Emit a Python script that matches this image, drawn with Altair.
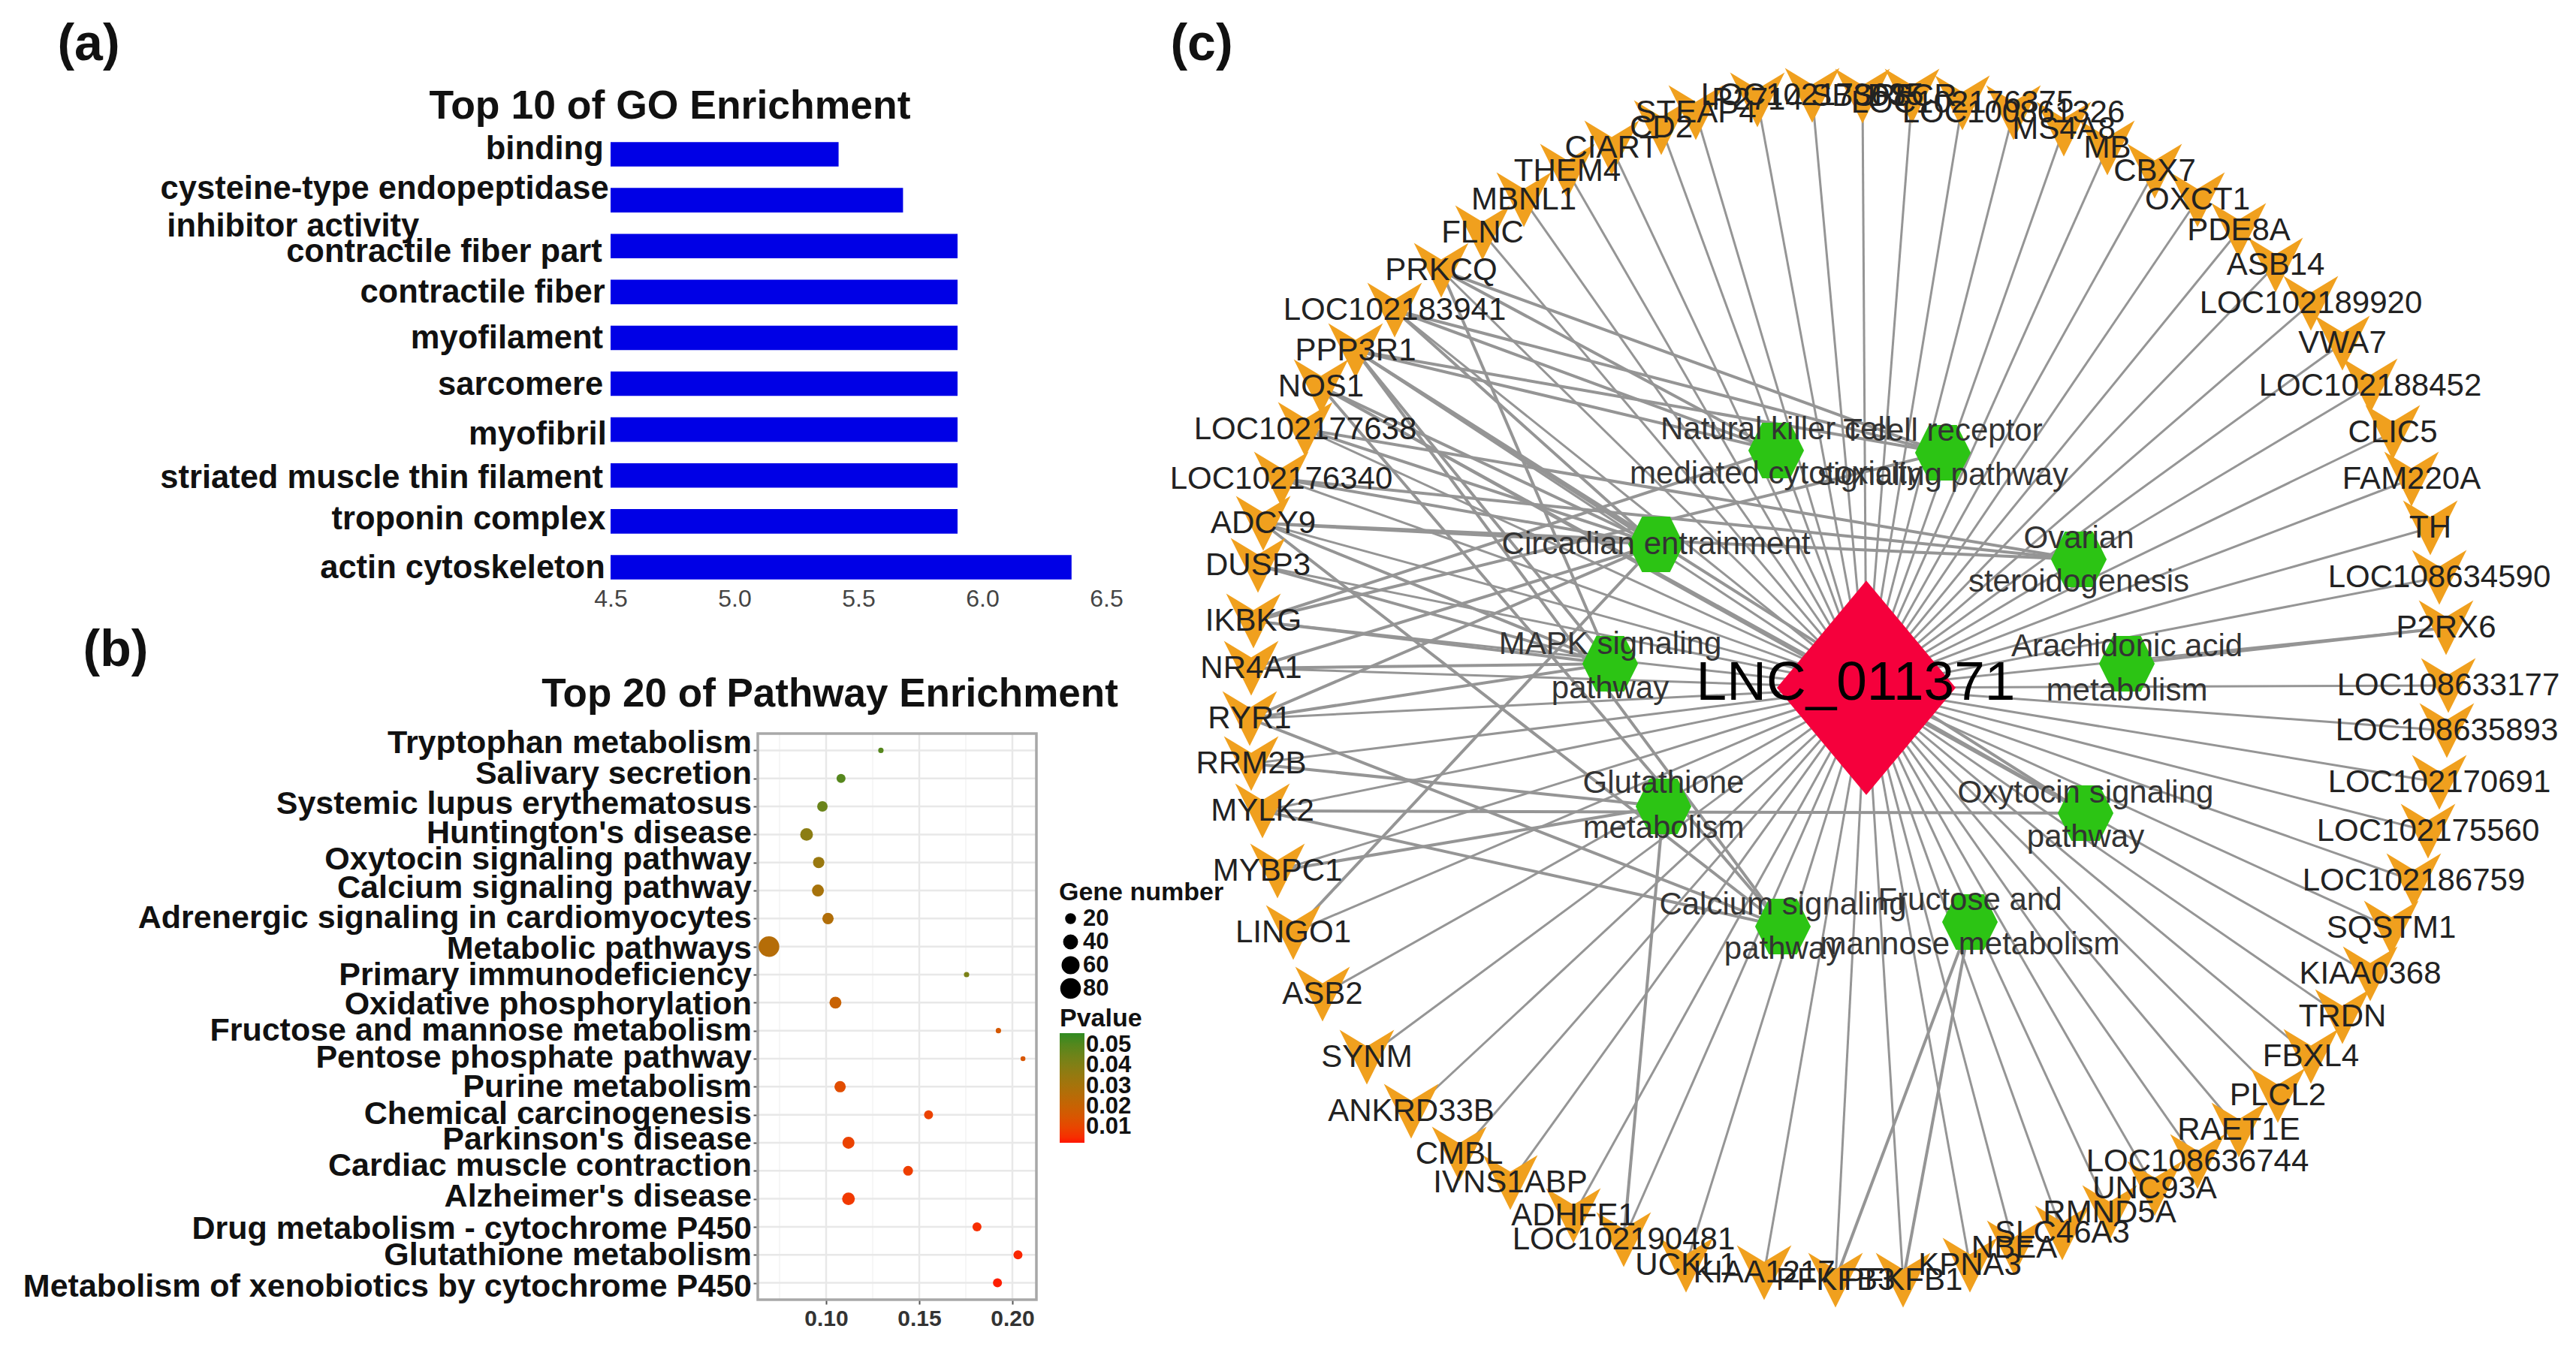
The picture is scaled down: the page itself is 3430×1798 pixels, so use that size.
import altair as alt
import pandas as pd

W, H = 3414, 1782
M = 8

# ---------- panel (a) ----------
go_terms = ["binding", "cysteine-type endopeptidase", "contractile fiber part", "contractile fiber",
            "myofilament", "sarcomere", "myofibril", "striated muscle thin filament",
            "troponin complex", "actin cytoskeleton"]
go_values = [5.42, 5.68, 5.9, 5.9, 5.9, 5.9, 5.9, 5.9, 5.9, 6.36]
go_label_rows = [0.385, 1.25, 2.63, 3.51, 4.51, 5.52, 6.6, 7.55, 8.45, 9.52]
go_label_ends = [4.472, 4.493, 4.466, 4.478, 4.47, 4.47, 4.484, 4.47, 4.48, 4.478]
go_ticks = [4.5, 5.0, 5.5, 6.0, 6.5]

# ---------- panel (b) ----------
pw_terms = ["Tryptophan metabolism", "Salivary secretion", "Systemic lupus erythematosus",
            "Huntington's disease", "Oxytocin signaling pathway", "Calcium signaling pathway",
            "Adrenergic signaling in cardiomyocytes", "Metabolic pathways", "Primary immunodeficiency",
            "Oxidative phosphorylation", "Fructose and mannose metabolism", "Pentose phosphate pathway",
            "Purine metabolism", "Chemical carcinogenesis", "Parkinson's disease",
            "Cardiac muscle contraction", "Alzheimer's disease", "Drug metabolism - cytochrome P450",
            "Glutathione metabolism", "Metabolism of xenobiotics by cytochrome P450"]
pw_ratio = [.1294, .108, .098, .0895, .096, .0956, .101, .0693, .1754, .105,
            .1925, .2057, .1075, .155, .112, .144, .112, .181, .203, .192]
pw_genes = [6, 17, 23, 34, 27, 30, 27, 90, 6, 30, 6, 5, 27, 17, 30, 20, 34, 17, 17, 17]
pw_p = [.05, .05, .046, .038, .034, .03, .027, .026, .042, .02,
        .016, .015, .012, .009, .009, .008, .007, .005, .004, .003]
pw_label_rows = [-0.26, .85, 1.92, 2.95, 3.90, 4.92, 6.0, 7.10, 8.03, 9.07,
                 10.02, 10.98, 12.02, 12.97, 13.90, 14.84, 15.92, 17.07, 18.03, 19.15]
pw_major = [.10, .15, .20]
pw_minor = [.075, .125, .175]
size_ticks = [20, 40, 60, 80]
p_ticks = [.05, .04, .03, .02, .01]

# ---------- panel (c): node centres ----------
gene_names = ["CIART", "CD2", "STEAP4", "P2714", "LOC102173635", "SBSPF", "DSCR", "LOC102176375",
              "LOC100861326", "MS4A8", "MB", "CBX7", "OXCT1", "PDE8A", "ASB14", "LOC102189920",
              "VWA7", "LOC102188452", "CLIC5", "FAM220A", "TH", "LOC108634590", "P2RX6",
              "LOC108633177", "LOC108635893", "LOC102170691", "LOC102175560", "LOC102186759",
              "SQSTM1", "KIAA0368", "TRDN", "FBXL4", "PLCL2", "RAET1E", "LOC108636744", "UNC93A",
              "RMND5A", "SLC46A3", "NBEA", "KPNA3", "PFKFB1", "PFKFB3", "KIAA1217", "UCKL1",
              "LOC102190481", "ADHFE1", "IVNS1ABP", "CMBL", "ANKRD33B", "SYNM", "ASB2", "LINGO1",
              "MYBPC1", "MYLK2", "RRM2B", "RYR1", "NR4A1", "IKBKG", "DUSP3", "ADCY9",
              "LOC102176340", "LOC102177638", "NOS1", "PPP3R1", "LOC102183941", "PRKCQ", "FLNC",
              "MBNL1", "THEM4"]
gene_x = [2146, 2212, 2258, 2340, 2413, 2480, 2546, 2613, 2681, 2748, 2806, 2869, 2926, 2981, 3030,
          3077, 3119, 3156, 3186, 3211, 3236, 3248, 3257, 3260, 3258, 3248, 3233, 3214, 3184, 3156,
          3119, 3077, 3033, 2981, 2926, 2869, 2809, 2746, 2682, 2623, 2534, 2444, 2349, 2245, 2162,
          2095, 2011, 1943, 1879, 1820, 1761, 1722, 1701, 1681, 1666, 1664, 1666, 1669, 1675, 1682,
          1706, 1738, 1759, 1805, 1857, 1919, 1974, 2029, 2087]
gene_y = [197, 170, 150, 133, 127, 128, 128, 137, 150, 172, 197, 228, 266, 307, 353, 404, 457, 514,
          576, 638, 703, 769, 836, 913, 973, 1042, 1107, 1173, 1236, 1297, 1354, 1407, 1459, 1505,
          1547, 1583, 1615, 1642, 1662, 1685, 1705, 1705, 1695, 1685, 1651, 1619, 1575, 1537, 1480,
          1408, 1324, 1242, 1160, 1080, 1017, 957, 890, 827, 753, 697, 638, 572, 515, 467, 413, 360,
          310, 266, 228]

hub_names = ["Natural killer cell", "T cell receptor", "Circadian entrainment", "Ovarian",
             "MAPK signaling", "Arachidonic acid", "Glutathione", "Oxytocin signaling",
             "Calcium signaling", "Fructose and"]
hub_second = ["mediated cytotoxicity", "signaling pathway", "", "steroidogenesis", "pathway",
              "metabolism", "metabolism", "pathway", "pathway", "mannose metabolism"]
hub_x = [2365, 2587, 2205, 2768, 2144, 2832, 2215, 2777, 2374, 2623]
hub_y = [600, 603, 725, 745, 884, 884, 1074, 1083, 1234, 1228]
hub_line1_y = [572, 574, 725, 717, 858, 861, 1043, 1056, 1205, 1199]
hub_line2_y = [631, 633, 0, 775, 917, 920, 1103, 1115, 1264, 1258]

centre_name = "LNC_011371"
centre_x, centre_y = 2485, 916

pathway_links = [
    ("PRKCQ", 1), ("PRKCQ", 4), ("PRKCQ", 0),
    ("LOC102183941", 0), ("LOC102183941", 1), ("LOC102183941", 2),
    ("PPP3R1", 0), ("PPP3R1", 1), ("PPP3R1", 2), ("PPP3R1", 4), ("PPP3R1", 7), ("PPP3R1", 8),
    ("NOS1", 2), ("NOS1", 8), ("NOS1", 7),
    ("LOC102177638", 2), ("LOC102177638", 3),
    ("LOC102176340", 2), ("LOC102176340", 3),
    ("ADCY9", 2), ("ADCY9", 3), ("ADCY9", 4), ("ADCY9", 8),
    ("DUSP3", 4), ("IKBKG", 4), ("IKBKG", 0), ("IKBKG", 1),
    ("NR4A1", 4), ("NR4A1", 2),
    ("RYR1", 2), ("RYR1", 8), ("RYR1", 4),
    ("RRM2B", 6), ("MYLK2", 7), ("MYLK2", 8),
    ("P2RX6", 5), ("LOC102190481", 6), ("PFKFB3", 9), ("PFKFB1", 9),
    ("MYBPC1", 6), ("LINGO1", 2),
]

texts = [("(a)", 118, 60, 68), ("(b)", 154, 867, 68), ("(c)", 1600, 60, 68),
         ("Top 10 of GO Enrichment", 892, 142, 53.5), ("Top 20 of Pathway Enrichment", 1105, 925, 53)]

# ---------- tables ----------
go_df = pd.DataFrame({"term": go_terms, "value": go_values, "base": [4.5] * len(go_terms),
                      "row": go_label_rows, "end": go_label_ends})
pw_df = pd.DataFrame({"term": pw_terms, "ratio": pw_ratio, "genes": pw_genes, "p": pw_p,
                      "row": pw_label_rows})
pw_df["lo"], pw_df["hi"] = .0633, .2129
genes = pd.DataFrame({"name": gene_names, "x": gene_x, "y": gene_y})
hubs = pd.DataFrame({"name": hub_names, "second": hub_second, "x": hub_x, "y": hub_y,
                     "y1": hub_line1_y, "y2": hub_line2_y})
gpos = dict(zip(gene_names, zip(gene_x, gene_y)))
edges = [{"x": gpos[g][0], "y": gpos[g][1], "x2": centre_x, "y2": centre_y} for g in gene_names]
edges_df = pd.DataFrame(edges)
plinks_df = pd.DataFrame([{"x": gpos[g][0], "y": gpos[g][1], "x2": hub_x[h], "y2": hub_y[h]}
                          for g, h in pathway_links])
text_df = pd.DataFrame(texts, columns=["t", "x", "y", "s"])

FONT = "Liberation Sans"

# picture-coordinate scales for the network panel
PX = alt.Scale(domain=[0, 3430], range=[-M, 3430 - M])
PY = alt.Scale(domain=[0, 1798], range=[-M, 1798 - M])
px = lambda f: alt.X(f, type="quantitative", scale=PX, axis=None)
py = lambda f: alt.Y(f, type="quantitative", scale=PY, axis=None)

layers = []

# panel (a)
AX = alt.Scale(domain=[4.5, 6.5], range=[813 - M, 1473 - M])
AY = alt.Scale(domain=go_terms, range=[175 - M, 786 - M], paddingInner=.466, paddingOuter=.233)
AR = alt.Scale(domain=[0, 10], range=[175.5 - M, 786.5 - M])
layers.append(alt.Chart(go_df).mark_bar(color="#0000e6").encode(
    x=alt.X("base:Q", scale=AX, axis=alt.Axis(values=go_ticks, format=".1f", title=None, grid=False, domain=False,
                                              ticks=False, orient="bottom", offset=-(H - (786 - M)),
                                              labelFont=FONT, labelFontSize=32, labelColor="#444444", labelFlush=False,
                                              labelPadding=-4, labelBaseline="top")),
    x2="value:Q",
    y=alt.Y("term:N", scale=AY, sort=None, axis=None)))
layers.append(alt.Chart(go_df).mark_text(align="right", baseline="middle", font=FONT, fontWeight="bold",
                                         fontSize=43.5, color="#111111").encode(
    x=alt.X("end:Q", scale=AX, axis=None), y=alt.Y("row:Q", scale=AR, axis=None), text="term:N"))
layers.append(alt.Chart(pd.DataFrame({"t": ["inhibitor activity"], "e": [2.71], "r": [2.07]}))
              .mark_text(align="left", baseline="middle", font=FONT, fontWeight="bold", fontSize=43.5, color="#111111")
              .encode(x=alt.X("e:Q", scale=AX, axis=None), y=alt.Y("r:Q", scale=AR, axis=None), text="t:N"))

# panel (b)
BX = alt.Scale(domain=[.0633, .2129], range=[1009 - M, 1380 - M])
BY = alt.Scale(domain=pw_terms, type="point", padding=.6, range=[977 - M, 1731 - M])
BR = alt.Scale(domain=[-.6, 19.6], range=[977 - M, 1731 - M])
for vals, col, sw in ((pw_minor, "#f3f3f3", 1.5), (pw_major, "#e8e8e8", 2.5)):
    layers.append(alt.Chart(pd.DataFrame({"v": vals})).mark_rule(color=col, strokeWidth=sw).encode(
        x=alt.X("v:Q", scale=BX, axis=None), y=alt.value(977 - M), y2=alt.value(1731 - M)))
layers.append(alt.Chart(pw_df).mark_rule(color="#e8e8e8", strokeWidth=2.5).encode(
    x=alt.X("lo:Q", scale=BX, axis=None), x2="hi:Q",
    y=alt.Y("term:N", scale=BY, sort=None,
            axis=alt.Axis(orient="left", offset=-(1009 - M), labels=False, title=None, domain=False, grid=False,
                          tickSize=6, tickColor="#555555", tickWidth=2))))
layers.append(alt.Chart(pd.DataFrame({"a": [0]})).mark_rect(fill="transparent", stroke="#a8a8a8", strokeWidth=3.5).encode(
    x=alt.value(1009 - M), x2=alt.value(1380 - M), y=alt.value(977 - M), y2=alt.value(1731 - M)))
layers.append(alt.Chart(pw_df).mark_circle(opacity=1).encode(
    x=alt.X("ratio:Q", scale=BX,
            axis=alt.Axis(values=pw_major, format=".2f", title=None, grid=False, domain=False, orient="bottom",
                          offset=-(H - (1731 - M)), labelFont=FONT, labelFontWeight="bold", labelFontSize=30,
                          labelColor="#333333", tickSize=6, tickColor="#555555", tickWidth=2, labelPadding=4)),
    y=alt.Y("term:N", scale=BY, sort=None, axis=None),
    size=alt.Size("genes:Q", scale=alt.Scale(domain=[0, 90], range=[0, 760]),
                  legend=alt.Legend(title="Gene number", values=size_ticks, orient="none",
                                    legendX=1410 - M, legendY=1172 - M, symbolFillColor="black",
                                    symbolStrokeColor="black", symbolOpacity=1, symbolType="circle",
                                    titleFont=FONT, titleFontSize=34, titleFontWeight="bold", titleColor="#111111",
                                    titleLimit=500,
                                    labelFont=FONT, labelFontSize=31, labelFontWeight="bold", labelColor="#111111",
                                    rowPadding=-2, titlePadding=2, labelOffset=1)),
    color=alt.Color("p:Q", scale=alt.Scale(domain=[.0023, .0559], range=["#ff1500", "#2e8b22"], interpolate="lab"),
                    legend=alt.Legend(title="Pvalue", values=p_ticks, orient="none", legendX=1411 - M, legendY=1340 - M,
                                      gradientLength=146, gradientThickness=33, gradientStrokeWidth=0,
                                      titleFont=FONT, titleFontSize=34, titleFontWeight="bold", titleColor="#111111",
                                      labelFont=FONT, labelFontSize=31, labelFontWeight="bold", labelColor="#111111",
                                      titlePadding=2, labelOverlap=False, format=".2f"))))
layers.append(alt.Chart(pw_df).mark_text(align="right", baseline="middle", font=FONT, fontWeight="bold",
                                         fontSize=43, color="#111111", dx=-8).encode(
    x=alt.X("lo:Q", scale=BX, axis=None), y=alt.Y("row:Q", scale=BR, axis=None), text="term:N"))

# panel (c)
layers.append(alt.Chart(edges_df).mark_rule(color="#959595", strokeWidth=3).encode(
    x=px("x"), y=py("y"), x2="x2:Q", y2="y2:Q"))
layers.append(alt.Chart(plinks_df).mark_rule(color="#959595", strokeWidth=4).encode(
    x=px("x"), y=py("y"), x2="x2:Q", y2="y2:Q"))
V_SHAPE = "M-1,-1L0,-0.4L1,-1L0,1Z"
HEX_SHAPE = "M-0.5,-1L0.5,-1L1,0L0.5,1L-0.5,1L-1,0Z"
DIAMOND = "M0,-1.2L1,0L0,1.2L-1,0Z"
layers.append(alt.Chart(genes).mark_point(shape=V_SHAPE, filled=True, fill="#f0a01e", stroke=None, opacity=1, size=5300).encode(
    x=px("x"), y=py("y")))
layers.append(alt.Chart(hubs).mark_point(shape=HEX_SHAPE, filled=True, fill="#2cc414", stroke=None, opacity=1, size=5500).encode(
    x=px("x"), y=py("y")))
layers.append(alt.Chart(pd.DataFrame({"x": [centre_x], "y": [centre_y]})).mark_point(
    shape=DIAMOND, filled=True, fill="#f5003c", stroke=None, opacity=1, size=56644).encode(x=px("x"), y=py("y")))
layers.append(alt.Chart(genes).mark_text(font=FONT, fontSize=42, color="#222222", baseline="middle").encode(
    x=px("x"), y=py("y"), text="name:N"))
layers.append(alt.Chart(hubs).mark_text(font=FONT, fontSize=42, color="#333333", baseline="middle").encode(
    x=px("x"), y=py("y1"), text="name:N"))
layers.append(alt.Chart(hubs[hubs["second"] != ""]).mark_text(font=FONT, fontSize=42, color="#333333", baseline="middle").encode(
    x=px("x"), y=py("y2"), text="second:N"))
layers.append(alt.Chart(pd.DataFrame({"x": [2471], "y": [910], "t": [centre_name]})).mark_text(
    font=FONT, fontSize=73, color="#000000", baseline="middle").encode(x=px("x"), y=py("y"), text="t:N"))

# panel letters and titles
layers.append(alt.Chart(text_df).mark_text(font=FONT, fontWeight="bold", color="#111111", baseline="middle").encode(
    x=px("x"), y=py("y"), text="t:N",
    size=alt.Size("s:Q", scale=None, legend=None)))

chart = alt.layer(*layers).resolve_scale(x="independent", y="independent", size="independent", color="independent") \
    .resolve_axis(x="independent", y="independent").properties(
    width=W, height=H, padding=0, autosize=alt.AutoSizeParams(type="none")
).configure_view(stroke=None)

chart.save("out.html", embed_options={"renderer": "svg", "actions": False})
